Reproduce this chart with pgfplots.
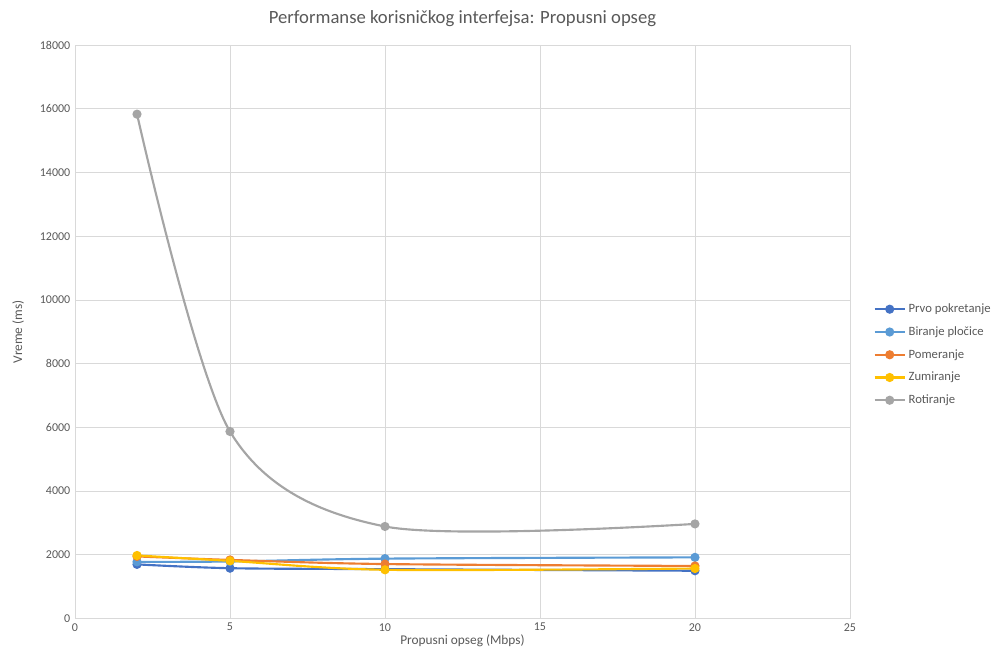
\documentclass[border=0pt]{standalone}
\usepackage{pgfplots}
\pgfplotsset{compat=1.18}
\usepackage{fontspec}
\setmainfont{Carlito}

\definecolor{txt}{HTML}{595959}
\definecolor{gridc}{HTML}{D9D9D9}
\definecolor{c1}{HTML}{4472C4}
\definecolor{c2}{HTML}{5B9BD5}
\definecolor{c3}{HTML}{ED7D31}
\definecolor{c4}{HTML}{FFC000}
\definecolor{c5}{HTML}{A5A5A5}

\begin{document}
\begin{tikzpicture}
\begin{axis}[
    scale only axis,
    width=581pt, height=430pt,
    xmin=0, xmax=25, ymin=0, ymax=18000,
    xtick={0,5,10,15,20,25},
    ytick={0,2000,4000,6000,8000,10000,12000,14000,16000,18000},
    scaled y ticks=false,
    /pgf/number format/assume math mode=true,
    /pgf/number format/set thousands separator={},
    tick label style={font=\fontsize{9}{10}\selectfont, text=txt},
    major tick length=0pt,
    grid=major,
    major grid style={gridc, line width=0.6pt},
    axis x line*=bottom,
    axis y line*=left,
    x axis line style={gridc, line width=0.8pt, -},
    y axis line style={draw=none},
    xlabel={Propusni opseg (Mbps)},
    ylabel={Vreme (ms)},
    label style={font=\fontsize{10}{12}\selectfont, text=txt},
    xlabel style={yshift=4pt},
    ylabel style={yshift=5pt},
    title={Performanse korisničkog interfejsa: Propusni opseg},
    title style={font=\fontsize{14}{16}\selectfont, text=txt, yshift=4pt},
    legend style={at={(1.03,0.46)}, anchor=west, draw=none, fill=none,
        font=\fontsize{9.5}{11}\selectfont, text=txt, row sep=5pt,
        cells={anchor=west}, inner xsep=0pt},
    legend image code/.code={
        \draw[mark repeat=2, mark phase=2, #1] plot coordinates {(0cm,0cm) (0.4cm,0cm) (0.8cm,0cm)};},
    every axis plot/.append style={line width=1.6pt, smooth, mark=*, mark size=2.6pt,
        mark options={solid}},
]
\addplot[c1, mark options={fill=c1, draw=c1}] coordinates {(2,1700) (5,1580) (10,1550) (20,1500)};
\addplot[c2, mark options={fill=c2, draw=c2}] coordinates {(2,1780) (5,1790) (10,1880) (20,1920)};
\addplot[c3, mark options={fill=c3, draw=c3}] coordinates {(2,1950) (5,1840) (10,1710) (20,1650)};
\addplot[c4, mark options={fill=c4, draw=c4}] coordinates {(2,1980) (5,1810) (10,1530) (20,1570)};
\addplot[c5, mark options={fill=c5, draw=c5}] coordinates {(2,15830) (5,5870) (10,2890) (20,2970)};
\legend{Prvo pokretanje, Biranje pločice, Pomeranje, Zumiranje, Rotiranje}
\end{axis}
\pgfresetboundingbox
\path (current axis.south west) ++(-56.25pt,-34.5pt) coordinate (bl);
\path (current axis.north east) ++(111.75pt,33.75pt) coordinate (tr);
\path (bl) rectangle (tr);
\end{tikzpicture}
\end{document}
